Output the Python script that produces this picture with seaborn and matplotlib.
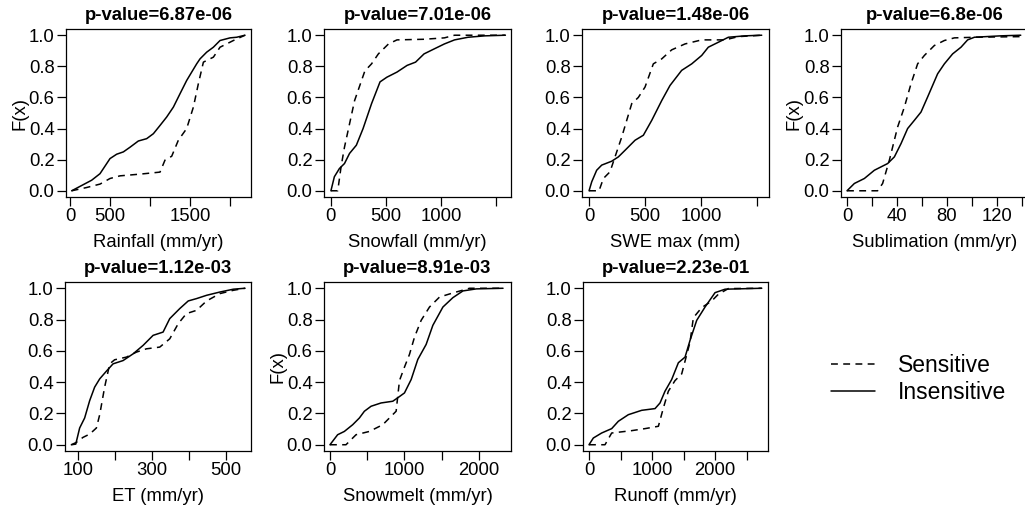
import numpy as np
import pandas as pd
import matplotlib
matplotlib.use("Agg")
import matplotlib.pyplot as plt
import seaborn as sns
from matplotlib.lines import Line2D

sns.set_style("white")
plt.rcParams['font.family'] = ['Liberation Sans', 'DejaVu Sans']
plt.rcParams['text.color'] = 'black'
plt.rcParams['axes.labelcolor'] = 'black'
plt.rcParams['xtick.color'] = 'black'
plt.rcParams['ytick.color'] = 'black'

# ---------------- data (ECDF curves) ----------------
groups = ["Sensitive", "Insensitive"]

titles = ["p-value=6.87e-06", "p-value=7.01e-06", "p-value=1.48e-06", "p-value=6.8e-06",
          "p-value=1.12e-03", "p-value=8.91e-03", "p-value=2.23e-01"]
xlabels = ["Rainfall (mm/yr)", "Snowfall (mm/yr)", "SWE max (mm)", "Sublimation (mm/yr)",
           "ET (mm/yr)", "Snowmelt (mm/yr)", "Runoff (mm/yr)"]
show_ylabel = [True, False, False, True, False, True, False]

# Rainfall
rain_ins_x = [21, 271, 375, 500, 583, 667, 750, 854, 958, 1042, 1125, 1208, 1292, 1375, 1458,
              1521, 1583, 1625, 1708, 1792, 1875, 2000, 2083, 2187]
rain_ins_f = [0, 0.068, 0.11, 0.207, 0.235, 0.25, 0.28, 0.32, 0.335, 0.367, 0.42, 0.474, 0.538,
              0.624, 0.709, 0.763, 0.816, 0.848, 0.891, 0.923, 0.966, 0.983, 0.987, 1.0]
rain_sen_x = [21, 208, 375, 500, 625, 875, 1125, 1187, 1271, 1354, 1458, 1542, 1604, 1667,
              1792, 1875, 2042, 2187]
rain_sen_f = [0, 0.021, 0.043, 0.079, 0.096, 0.107, 0.12, 0.197, 0.222, 0.325, 0.4, 0.538,
              0.688, 0.827, 0.859, 0.923, 0.966, 1.0]

# Snowfall
snow_ins_x = [0, 31, 77, 123, 169, 231, 292, 369, 446, 508, 600, 692, 769, 846, 938, 1031,
              1123, 1246, 1400, 1585]
snow_ins_f = [0, 0.09, 0.143, 0.175, 0.24, 0.293, 0.4, 0.56, 0.7, 0.73, 0.763, 0.806, 0.827,
              0.88, 0.912, 0.944, 0.97, 0.987, 0.996, 1.0]
snow_sen_x = [0, 62, 92, 123, 215, 308, 369, 431, 523, 600, 846, 1031, 1123, 1585]
snow_sen_f = [0, 0, 0.154, 0.28, 0.58, 0.77, 0.816, 0.88, 0.944, 0.97, 0.974, 0.983, 1.0, 1.0]

# SWE max
swe_ins_x = [0, 24, 68, 113, 202, 262, 321, 411, 485, 560, 649, 723, 827, 917, 1006, 1065,
             1155, 1244, 1393, 1542]
swe_ins_f = [0, 0.058, 0.132, 0.165, 0.19, 0.218, 0.26, 0.325, 0.357, 0.453, 0.58, 0.677,
             0.774, 0.816, 0.87, 0.923, 0.955, 0.987, 0.996, 1.0]
swe_sen_x = [0, 89, 128, 187, 232, 292, 381, 440, 500, 574, 649, 738, 857, 1006, 1214, 1333, 1542]
swe_sen_f = [0, 0, 0.079, 0.122, 0.218, 0.346, 0.56, 0.6, 0.667, 0.816, 0.848, 0.906, 0.944,
             0.97, 0.97, 0.991, 1.0]

# Sublimation
sub_ins_x = [0, 5.9, 13.9, 21.9, 32.5, 37.9, 43.2, 48.5, 53.9, 59.2, 64.5, 72.5, 77.9, 84.5,
             91.2, 96.5, 101.9, 123, 139]
sub_ins_f = [0, 0.047, 0.079, 0.132, 0.175, 0.218, 0.303, 0.4, 0.453, 0.506, 0.603, 0.752,
             0.816, 0.88, 0.923, 0.97, 0.987, 0.996, 1.0]
sub_sen_x = [0, 24.5, 28.5, 33.9, 40.5, 45.9, 51.2, 56.5, 61.9, 69.9, 77.9, 85.9, 101.9, 139]
sub_sen_f = [0, 0, 0.047, 0.197, 0.41, 0.538, 0.688, 0.816, 0.87, 0.934, 0.966, 0.983, 0.987, 0.991]

# ET
et_ins_x = [82, 94, 104.5, 118, 131.6, 145, 158.7, 176.7, 194.8, 221.9, 249, 276, 303, 330,
            348, 375, 398, 420.5, 447.6, 483.7, 519.9, 551.5]
et_ins_f = [0, 0.004, 0.107, 0.171, 0.282, 0.368, 0.421, 0.47, 0.517, 0.538, 0.581, 0.635,
            0.699, 0.72, 0.806, 0.87, 0.919, 0.934, 0.955, 0.976, 0.994, 1.0]
et_sen_x = [82, 95.5, 113.5, 131.6, 149.7, 158.7, 172, 185.8, 199, 230.9, 258, 285, 321, 348,
            371, 393, 420.5, 447.6, 483.7, 519.9, 551.5]
et_sen_f = [0, 0.015, 0.047, 0.068, 0.107, 0.192, 0.368, 0.517, 0.543, 0.56, 0.592, 0.613,
            0.624, 0.677, 0.774, 0.838, 0.859, 0.919, 0.966, 0.987, 1.0]

# Snowmelt
melt_ins_x = [0, 103, 193, 305, 395, 462, 552, 686, 843, 910, 1000, 1090, 1179, 1291, 1381,
              1516, 1650, 1785, 1964, 2323]
melt_ins_f = [0, 0.064, 0.085, 0.128, 0.171, 0.214, 0.246, 0.267, 0.278, 0.3, 0.331, 0.417,
              0.545, 0.641, 0.763, 0.88, 0.94, 0.983, 0.996, 1.0]
melt_sen_x = [0, 215, 350, 529, 709, 798, 888, 933, 1000, 1067, 1135, 1224, 1336, 1471, 1650,
              1874, 2323]
melt_sen_f = [0, 0, 0.064, 0.085, 0.128, 0.171, 0.214, 0.41, 0.496, 0.577, 0.688, 0.795, 0.88,
              0.944, 0.97, 1.0, 1.0]

# Runoff
run_ins_x = [0, 69, 201, 360, 466, 624, 836, 1048, 1127, 1206, 1312, 1418, 1524, 1603, 1709,
             1841, 2000, 2159, 2741]
run_ins_f = [0, 0.043, 0.075, 0.103, 0.15, 0.192, 0.22, 0.231, 0.267, 0.342, 0.417, 0.524,
             0.56, 0.667, 0.795, 0.88, 0.972, 0.994, 1.0]
run_sen_x = [0, 254, 360, 677, 889, 1101, 1180, 1259, 1365, 1471, 1603, 1656, 1788, 1947,
             2053, 2212, 2741]
run_sen_f = [0, 0, 0.075, 0.09, 0.103, 0.118, 0.235, 0.342, 0.41, 0.453, 0.656, 0.812, 0.876,
             0.919, 0.962, 0.998, 1.0]

curves = [
    (rain_sen_x, rain_sen_f, rain_ins_x, rain_ins_f),
    (snow_sen_x, snow_sen_f, snow_ins_x, snow_ins_f),
    (swe_sen_x, swe_sen_f, swe_ins_x, swe_ins_f),
    (sub_sen_x, sub_sen_f, sub_ins_x, sub_ins_f),
    (et_sen_x, et_sen_f, et_ins_x, et_ins_f),
    (melt_sen_x, melt_sen_f, melt_ins_x, melt_ins_f),
    (run_sen_x, run_sen_f, run_ins_x, run_ins_f),
]

# tick values and labels
xticks = [[0, 500, 1000, 1500, 2000], [0, 500, 1000, 1500], [0, 500, 1000, 1500],
          [0, 20, 40, 60, 80, 100, 120, 140], [100, 200, 300, 400, 500],
          [0, 500, 1000, 1500, 2000], [0, 500, 1000, 1500, 2000, 2500]]
xticklabels = [["0", "500", "", "1500", ""], ["0", "500", "1000", ""], ["0", "500", "1000", ""],
               ["0", "", "40", "", "80", "", "120", ""], ["100", "", "300", "", "500"],
               ["0", "", "1000", "", "2000"], ["0", "", "1000", "", "2000", ""]]
yticks = [0.0, 0.2, 0.4, 0.6, 0.8, 1.0]
yticklabels = ["0.0", "0.2", "0.4", "0.6", "0.8", "1.0"]

# ---------------- layout ----------------
W, H = 1025, 508
boxes = [(66, 251, 29, 197), (324, 511, 29, 197), (582, 769, 29, 197), (841, 1028, 29, 197),
         (65, 251, 282, 451), (324, 511, 282, 451), (583, 768, 282, 451)]
xlims = [(-50, 2262), (-63, 1636), (-63, 1607), (-4.8, 144.8), (64.9, 567.6), (-80, 2430), (-95, 2840)]

FS = 13.3
dash_map = {"Sensitive": (4.5, 3.5), "Insensitive": ""}

fig = plt.figure(figsize=(W / 100, H / 100), dpi=100)

for i in range(7):
    l, r, t, b = boxes[i]
    ax = fig.add_axes([l / W, 1 - b / H, (r - l) / W, (b - t) / H])
    sx, sf, ix, iff = curves[i]
    df = pd.DataFrame({
        "x": list(sx) + list(ix),
        "F": list(sf) + list(iff),
        "group": ["Sensitive"] * len(sx) + ["Insensitive"] * len(ix),
    })
    sns.lineplot(data=df, x="x", y="F", style="group", style_order=groups, dashes=dash_map,
                 color="black", linewidth=1.1, sort=False, estimator=None, legend=False, ax=ax)
    ax.set_xlim(*xlims[i])
    ax.set_ylim(-0.04, 1.04)
    ax.set_xticks(xticks[i])
    ax.set_xticklabels(xticklabels[i], fontsize=FS, color="black")
    ax.set_yticks(yticks)
    ax.set_yticklabels(yticklabels, fontsize=FS, color="black")
    ax.tick_params(axis="both", direction="out", length=6.7, width=0.9, color="black",
                   labelcolor="black", pad=1.5, bottom=True, left=True)
    for sp in ax.spines.values():
        sp.set_visible(True)
        sp.set_color("black")
        sp.set_linewidth(0.9)
    ax.set_title(titles[i], fontsize=FS, fontweight="bold", pad=6.5, color="black")
    ax.set_xlabel(xlabels[i], fontsize=FS, color="black")
    ax.xaxis.set_label_coords(0.5, -37 / (b - t))
    if show_ylabel[i]:
        ax.set_ylabel("F(x)", fontsize=FS, color="black")
        ax.yaxis.set_label_coords(-38 / (r - l), 0.5)
    else:
        ax.set_ylabel("")

handles = [Line2D([0], [0], color="black", lw=1.1, dashes=(4.5, 3.5)),
           Line2D([0], [0], color="black", lw=1.1)]
leg = fig.legend(handles, groups, loc="center left", bbox_to_anchor=(822 / W, 1 - 379 / H),
                 frameon=False, fontsize=16.5, handlelength=1.9, handletextpad=1.0,
                 labelspacing=0.15, borderaxespad=0)
for txt in leg.get_texts():
    txt.set_color("black")

fig.savefig("out.png", dpi=100)
